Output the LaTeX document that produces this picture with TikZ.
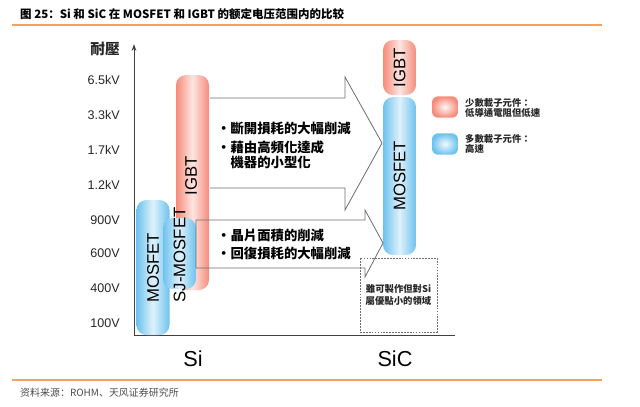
\documentclass[tikz,border=0pt]{standalone}
\usepackage{fontspec}
\setmainfont{Liberation Sans}
\newfontfamily\tcfont{Noto Sans CJK TC}
\newfontfamily\scfont{Noto Sans CJK SC}
\usetikzlibrary{arrows.meta, positioning}
\usepackage{xcolor}
\definecolor{igbtred}{HTML}{F58C7A}
\definecolor{mosblue}{HTML}{6DC2EE}
\definecolor{rulebar}{HTML}{F5A15C}
\definecolor{arrowgray}{HTML}{6E6E6E}
\def\barw{0.99cm}

\begin{document}
\begin{tikzpicture}[x=0.03cm, y=-0.03cm]
    \tikzstyle{bar}=[rounded corners=0.3cm, minimum width=\barw, inner sep=0pt]
    \tikzstyle{igbt bar}=[bar, left color=igbtred, right color=igbtred, middle color=igbtred!22]
    \tikzstyle{mos bar}=[bar, left color=mosblue, right color=mosblue, middle color=mosblue!22]
    \tikzstyle{bar text}=[rotate=90, inner sep=0pt, font=\fontsize{14.3}{16}\selectfont]
    \tikzstyle{tick}=[anchor=east, inner sep=0pt, text=black!85, font=\fontsize{10.7}{12}\selectfont]
    \tikzstyle{block arrow}=[draw=arrowgray, line width=0.7pt, line join=miter]
    \tikzstyle{annot}=[anchor=west, align=left, inner sep=0pt, font=\tcfont\bfseries\fontsize{11.4}{12.5}\selectfont]
    \tikzstyle{note}=[align=left, inner sep=0pt, text=black!85, font=\tcfont\bfseries\fontsize{8}{9}\selectfont]
    \tikzstyle{key}=[minimum width=0.78cm, minimum height=0.64cm, rounded corners=0.18cm]
    \tikzstyle{group}=[font=\fontsize{18.5}{20}\selectfont]

    \useasboundingbox (0,0) rectangle (640,406);

    % Title and the two orange rules
    \node[anchor=west, inner sep=0pt, font=\scfont\bfseries\fontsize{9.8}{12}\selectfont] (title) at (20,14)
        {图 25：Si 和 SiC 在 MOSFET 和 IGBT 的额定电压范围内的比较};
    \draw[rulebar, line width=1.2pt] (12,25) -- (602,25);
    \draw[rulebar, line width=1.2pt] (12,380) -- (602,380);
    \node[anchor=west, inner sep=0pt, text=black!70, font=\scfont\fontsize{8.5}{10}\selectfont] (source) at (20,393)
        {资料来源：ROHM、天风证券研究所};

    % Draw the axes
    \coordinate (origin) at (134,335);
    \coordinate (ytop) at (134,44);
    \coordinate (xend) at (455,335);
    \draw[black!75, line width=0.8pt, -{Stealth[length=6pt, width=4pt]}] (origin) -- (ytop);
    \draw[black!75, line width=0.8pt] (origin) -- (xend);
    \node[tick, font=\tcfont\bfseries\fontsize{12.5}{14}\selectfont] (axis-name) at (120,49) {耐壓};

    % Voltage ticks
    \foreach \name / \y in {6.5kV/80, 3.3kV/115, 1.7kV/150, 1.2kV/185, 900V/220, 600V/253, 400V/288, 100V/323}
        \node[tick] (T-\y) at (120,\y) {\name};

    % Draw the Si bars
    \node[igbt bar, minimum height=6.45cm] (si-igbt) at (192.5,182.5) {};
    \node[mos bar, minimum height=4.05cm] (si-mos) at (153,267.5) {};
    \node[mos bar, minimum height=2.13cm] (si-sj) at (179.5,253.5) {};
    \node[bar text] (si-igbt-t) at (191,176) {IGBT};
    \node[bar text] (si-mos-t) at (153,268) {MOSFET};
    \node[bar text] (si-sj-t) at (179.5,255) {SJ-MOSFET};

    % Draw the SiC bars
    \node[igbt bar, minimum height=1.65cm] (sic-igbt) at (399.5,67.5) {};
    \node[mos bar, minimum height=4.74cm] (sic-mos) at (399.5,176) {};
    \node[bar text] (sic-igbt-t) at (sic-igbt) {IGBT};
    \node[bar text] (sic-mos-t) at (sic-mos) {MOSFET};

    % Block arrows from Si to SiC
    \draw[block arrow] (210,98) -- (345,98) -- (345,77) -- (382,143) -- (345,210) -- (345,188) -- (210,188);
    \draw[block arrow] (196,220) -- (365,220) -- (365,210) -- (383,243) -- (365,277) -- (365,268) -- (196,268) -- cycle;

    \node[annot] (up-1) at (217,128) {・斷開損耗的大幅削減};
    \node[annot] (up-2) at (217,155) {・藉由高頻化達成\\\phantom{・}機器的小型化};
    \node[annot, font=\tcfont\bfseries\fontsize{11.4}{15.4}\selectfont] (low-1) at (217,244)
        {・晶片面積的削減\\・回復損耗的大幅削減};

    % Region that is left to Si
    \node[draw=arrowgray, dash pattern=on 1.5pt off 1pt, minimum width=2.31cm, minimum height=2.22cm,
          note, align=center, font=\tcfont\bfseries\fontsize{8}{11}\selectfont] (si-only) at (398.5,295)
        {雖可製作但對Si\\屬優點小的領域};

    % Legend
    \node[key, inner color=igbtred!8, outer color=igbtred] (key-igbt) at (445,107) {};
    \node[note, anchor=west] (key-igbt-t) at (465,108) {少數載子元件：\\低導通電阻但低速};
    \node[key, inner color=mosblue!8, outer color=mosblue] (key-mos) at (445,144) {};
    \node[note, anchor=west] (key-mos-t) at (465,144) {多數載子元件：\\高速};

    % Material names
    \node[group] (si) at (193,359) {Si};
    \node[group] (sic) at (395,359) {SiC};
\end{tikzpicture}
\end{document}
